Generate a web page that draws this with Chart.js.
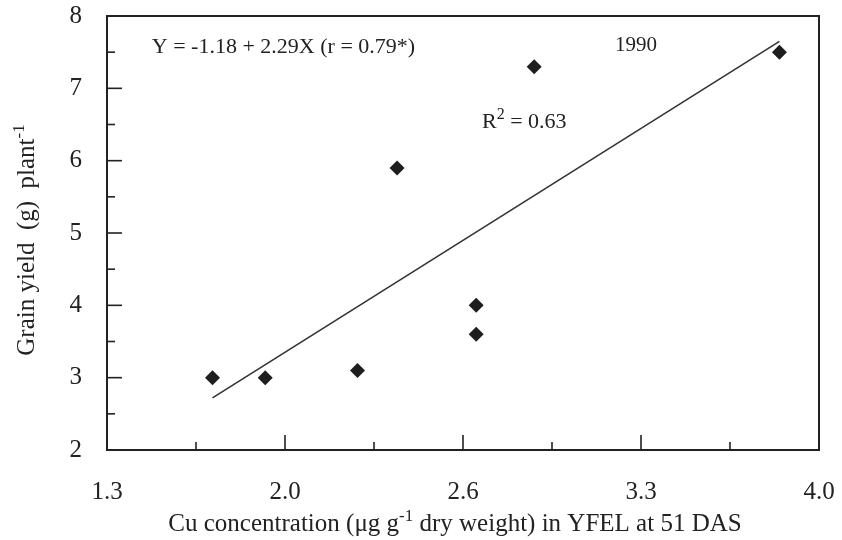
<!DOCTYPE html>
<html>
<head>
<meta charset="utf-8">
<script src="https://cdn.jsdelivr.net/npm/chart.js@4.4.1/dist/chart.umd.min.js"></script>
<style>
  html, body { margin: 0; padding: 0; background: #ffffff; }
  #wrap { width: 842px; height: 540px; }
</style>
</head>
<body>
<div id="wrap"><canvas id="c" width="842" height="540"></canvas></div>
<script>
// ---- data ----
const xValues = [1.70, 1.90, 2.25, 2.40, 2.70, 2.70, 2.92, 3.85];
const yValues = [3.0, 3.0, 3.1, 5.9, 4.0, 3.6, 7.3, 7.5];
const fitX = [1.70, 3.85];
const fitY = [2.72, 7.65];
const xTickLabels = ['1.3', '2.0', '2.6', '3.3', '4.0'];
const yTickLabels = ['2', '3', '4', '5', '6', '7', '8'];
const xMin = 1.3, xMax = 4.0, yMin = 2, yMax = 8;

const INK = '#222222';
const SERIF = '"Liberation Serif", "DejaVu Serif", serif';

const points = xValues.map((x, i) => ({ x: x, y: yValues[i] }));
const fitLine = fitX.map((x, i) => ({ x: x, y: fitY[i] }));

function drawRich(ctx, segs, x, y, align, size, supRatio) {
  const sr = supRatio || 0.62;
  ctx.save();
  ctx.textBaseline = 'alphabetic';
  let total = 0;
  const widths = segs.map(s => {
    ctx.font = (s.sup ? Math.round(size * sr) : size) + 'px ' + SERIF;
    const w = ctx.measureText(s.t).width;
    total += w;
    return w;
  });
  let cx = align === 'center' ? x - total / 2 : (align === 'right' ? x - total : x);
  segs.forEach((s, i) => {
    ctx.font = (s.sup ? Math.round(size * sr) : size) + 'px ' + SERIF;
    ctx.textAlign = 'left';
    ctx.fillText(s.t, cx, s.sup ? y - size * 0.42 : y);
    cx += widths[i];
  });
  ctx.restore();
}

function noPad(s) { s.paddingTop = 0; s.paddingBottom = 0; s.paddingLeft = 0; s.paddingRight = 0; }

const decor = {
  id: 'decor',
  afterDraw(chart) {
    const ctx = chart.ctx;
    const a = chart.chartArea;
    const xs = chart.scales.x, ys = chart.scales.y;
    ctx.save();
    ctx.strokeStyle = INK;
    ctx.fillStyle = INK;
    // frame
    ctx.lineWidth = 2;
    ctx.strokeRect(a.left, a.top, a.right - a.left, a.bottom - a.top);
    // inward ticks
    ctx.lineWidth = 1.6;
    ys.ticks.forEach((t, i) => {
      const py = ys.getPixelForValue(t.value);
      const len = i % 2 === 0 ? 15 : 8;
      ctx.beginPath(); ctx.moveTo(a.left, py); ctx.lineTo(a.left + len, py); ctx.stroke();
    });
    xs.ticks.forEach((t, i) => {
      const px = xs.getPixelForValue(t.value);
      const len = i % 2 === 0 ? 15 : 8;
      ctx.beginPath(); ctx.moveTo(px, a.bottom); ctx.lineTo(px, a.bottom - len); ctx.stroke();
    });
    // axis titles
    drawRich(ctx, [{ t: 'Cu concentration (μg g' }, { t: '-1', sup: true }, { t: ' dry weight) in YFEL at 51 DAS' }],
      (a.left + a.right) / 2 - 8, 531, 'center', 25, 0.66);
    ctx.save();
    ctx.translate(34, 240);
    ctx.rotate(-Math.PI / 2);
    drawRich(ctx, [{ t: 'Grain yield  (g)  plant' }, { t: '-1', sup: true }], 0, 0, 'center', 25, 0.66);
    ctx.restore();
    // annotations
    drawRich(ctx, [{ t: 'Y = -1.18 + 2.29X (r = 0.79*)' }], xs.getPixelForValue(1.47), ys.getPixelForValue(7.49), 'left', 22);
    drawRich(ctx, [{ t: '1990' }], xs.getPixelForValue(3.226), ys.getPixelForValue(7.52), 'left', 21);
    drawRich(ctx, [{ t: 'R' }, { t: '2', sup: true }, { t: ' = 0.63' }], xs.getPixelForValue(2.722), ys.getPixelForValue(6.45), 'left', 22, 0.72);
    ctx.restore();
  }
};

new Chart(document.getElementById('c'), {
  type: 'scatter',
  data: {
    datasets: [
      {
        label: 'Observed',
        data: points,
        pointStyle: 'rectRot',
        pointRadius: 7.5,
        pointHoverRadius: 7.5,
        backgroundColor: '#1e1e1e',
        borderColor: '#1e1e1e',
        borderWidth: 0,
        order: 1
      },
      {
        label: 'Fit',
        type: 'line',
        data: fitLine,
        showLine: true,
        borderColor: '#333333',
        borderWidth: 1.6,
        pointRadius: 0,
        fill: false,
        order: 2
      }
    ]
  },
  options: {
    responsive: false,
    animation: false,
    devicePixelRatio: 1,
    layout: { padding: { top: 16, right: 23, left: 0, bottom: 0 } },
    plugins: { legend: { display: false }, tooltip: { enabled: false } },
    scales: {
      x: {
        type: 'linear',
        min: xMin, max: xMax,
        afterBuildTicks(s) {
          const t = [];
          for (let i = 0; i <= 8; i++) t.push({ value: xMin + i * (xMax - xMin) / 8 });
          s.ticks = t;
        },
        afterFit(s) { s.height = 90; noPad(s); },
        ticks: {
          autoSkip: false, maxRotation: 0, padding: 27,
          color: INK, font: { family: SERIF, size: 25 },
          callback: (v, i) => (i % 2 === 0 ? xTickLabels[i / 2] : '')
        },
        grid: { display: false, drawTicks: false },
        border: { display: false }
      },
      y: {
        min: yMin, max: yMax,
        afterBuildTicks(s) {
          const t = [];
          for (let i = 0; i <= 12; i++) t.push({ value: yMin + i * 0.5 });
          s.ticks = t;
        },
        afterFit(s) { s.width = 107; noPad(s); },
        ticks: {
          autoSkip: false, padding: 25,
          color: INK, font: { family: SERIF, size: 25 },
          callback: (v, i) => (i % 2 === 0 ? yTickLabels[i / 2] : '')
        },
        grid: { display: false, drawTicks: false },
        border: { display: false }
      }
    }
  },
  plugins: [decor]
});
</script>
</body>
</html>
